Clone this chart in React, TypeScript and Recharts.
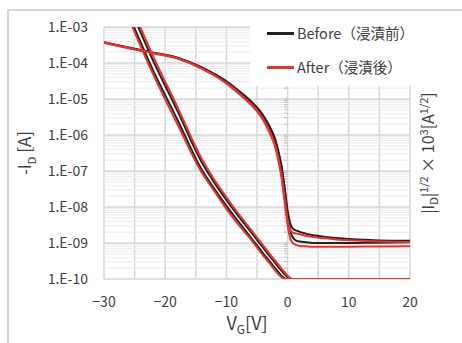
import { LineChart, Line, XAxis, YAxis, CartesianGrid, ReferenceLine } from 'recharts';

// gate voltage sweep points [V]
const vG = [-30, -26, -22, -18, -14, -12, -10, -8, -6, -5, -4, -3, -2, -1.5, -1, -0.5, 0, 0.5, 1, 1.5, 2, 3, 4, 6, 8, 10, 14, 20];

// -I_D [A] (left, log axis), two sweeps per sample
const beforeLogA = [3.8e-4, 2.7e-4, 1.95e-4, 1.41e-4, 7.6e-5, 5.0e-5, 3.1e-5, 1.7e-5, 8.7e-6, 5.8e-6, 3.5e-6, 1.82e-6, 7.4e-7, 3.55e-7, 1.41e-7, 3.55e-8, 7.9e-9, 3.2e-9, 2.4e-9, 2.2e-9, 2.04e-9, 1.82e-9, 1.66e-9, 1.48e-9, 1.38e-9, 1.29e-9, 1.2e-9, 1.15e-9];
const beforeLogB = [3.7e-4, 2.65e-4, 1.9e-4, 1.38e-4, 7.4e-5, 4.9e-5, 3.0e-5, 1.64e-5, 8.3e-6, 5.5e-6, 3.25e-6, 1.65e-6, 6.6e-7, 3.1e-7, 1.2e-7, 3.2e-8, 6.3e-9, 2.0e-9, 1.32e-9, 1.15e-9, 1.1e-9, 1.05e-9, 1.0e-9, 1.0e-9, 1.0e-9, 1.0e-9, 1.02e-9, 1.05e-9];
const afterLogA = [3.8e-4, 2.63e-4, 1.91e-4, 1.35e-4, 7.1e-5, 4.6e-5, 2.8e-5, 1.5e-5, 7.4e-6, 4.9e-6, 2.8e-6, 1.35e-6, 5.0e-7, 2.24e-7, 7.9e-8, 1.78e-8, 4.5e-9, 2.2e-9, 1.9e-9, 1.82e-9, 1.74e-9, 1.58e-9, 1.48e-9, 1.35e-9, 1.26e-9, 1.2e-9, 1.12e-9, 1.07e-9];
const afterLogB = [3.6e-4, 2.57e-4, 1.86e-4, 1.32e-4, 6.9e-5, 4.5e-5, 2.7e-5, 1.42e-5, 7.0e-6, 4.5e-6, 2.55e-6, 1.2e-6, 4.4e-7, 1.9e-7, 6.6e-8, 1.41e-8, 3.2e-9, 1.26e-9, 9.5e-10, 8.7e-10, 8.3e-10, 8.1e-10, 7.9e-10, 7.9e-10, 7.9e-10, 7.9e-10, 8.0e-10, 8.1e-10];

// |I_D|^1/2 x 10^3 (right axis, no labels)
const beforeSqrtA = [17.8, 14.7, 11.6, 8.85, 6.05, 5.02, 4.06, 3.17, 2.3, 1.87, 1.43, 1.01, 0.58, 0.38, 0.18, 0.04, 0, 0, 0, 0, 0, 0, 0, 0, 0, 0, 0, 0];
const beforeSqrtB = [18.35, 15.25, 12.15, 9.34, 6.47, 5.37, 4.39, 3.48, 2.61, 2.18, 1.74, 1.3, 0.88, 0.66, 0.46, 0.26, 0.1, 0.01, 0, 0, 0, 0, 0, 0, 0, 0, 0, 0];
const afterSqrtA = [17.6, 14.5, 11.4, 8.6, 5.9, 4.9, 3.9, 3.0, 2.2, 1.75, 1.3, 0.9, 0.46, 0.26, 0.1, 0.01, 0, 0, 0, 0, 0, 0, 0, 0, 0, 0, 0, 0];
const afterSqrtB = [18.6, 15.5, 12.4, 9.55, 6.65, 5.52, 4.54, 3.61, 2.74, 2.3, 1.87, 1.43, 1.01, 0.8, 0.58, 0.38, 0.18, 0.04, 0, 0, 0, 0, 0, 0, 0, 0, 0, 0];

const logTicks = [1e-10, 1e-9, 1e-8, 1e-7, 1e-6, 1e-5, 1e-4, 1e-3];
const vTicks = [-30, -25, -20, -15, -10, -5, 0, 5, 10, 15, 20];
const minorSteps = [2, 3, 4, 5, 6, 7, 8, 9];

const rows = vG.map((v, i) => ({
  v,
  bLogA: beforeLogA[i],
  bLogB: beforeLogB[i],
  aLogA: afterLogA[i],
  aLogB: afterLogB[i],
  bSqA: beforeSqrtA[i],
  bSqB: beforeSqrtB[i],
  aSqA: afterSqrtA[i],
  aSqB: afterSqrtB[i],
}));

const minorValues = logTicks.slice(0, -1).flatMap((d) => minorSteps.map((m) => d * m));
const axisTickValues = [...logTicks, ...minorValues];

const BLACK = '#222222';
const RED = '#e5332e';
const FONT = '"Noto Sans CJK JP", "Noto Sans", sans-serif';
const TEXT = '#404040';

const fmtLog = (v: number) => {
  const e = Math.round(-Math.log10(v));
  return `1.E-${String(e).padStart(2, '0')}`;
};
const fmtV = (v: number) => (v % 10 === 0 ? String(v).replace('-', '\u2212') : '');

export default function App() {
  return (
    <div style={{ position: 'absolute', left: 0, top: 0, width: 462, height: 343, overflow: 'hidden', background: '#fff', fontFamily: FONT }}>
      <div style={{ position: 'absolute', left: 7, top: 9, width: 500, height: 400, border: '2px solid #d6d6d6' }} />
      <div style={{ position: 'absolute', left: 0, top: 0 }}>
        <LineChart width={462} height={343} data={rows} margin={{ top: 27, right: 52, left: 44, bottom: 34 }}>
          {minorValues.map((m) => (
            <ReferenceLine key={'g' + m} yAxisId="log" y={m} stroke="#ececec" strokeWidth={1} />
          ))}
          <CartesianGrid yAxisId="log" stroke="#d6d6d6" strokeWidth={1.5} />
          <XAxis
            type="number"
            dataKey="v"
            domain={[-30, 20]}
            ticks={vTicks}
            interval={0}
            allowDataOverflow
            axisLine={false}
            tickLine={false}
            tickSize={0}
            tickMargin={18}
            height={30}
            tickFormatter={fmtV}
            tick={{ fill: TEXT, fontSize: 14, fontFamily: FONT }}
          />
          <YAxis
            yAxisId="log"
            scale="log"
            domain={[1e-10, 1e-3]}
            ticks={logTicks}
            interval={0}
            allowDataOverflow
            axisLine={false}
            tickLine={false}
            tickSize={0}
            tickMargin={16}
            width={60}
            tickFormatter={fmtLog}
            tick={{ fill: TEXT, fontSize: 14, fontFamily: FONT }}
          />
          <YAxis yAxisId="sqrt" orientation="right" domain={[0, 14]} allowDataOverflow hide />
          {axisTickValues.map((t) => (
            <ReferenceLine
              key={t}
              yAxisId="log"
              segment={[{ x: -0.6, y: t }, { x: 0, y: t }]}
              stroke="#bdbdbd"
              strokeWidth={1}
            />
          ))}
          <Line yAxisId="sqrt" dataKey="bSqA" stroke={BLACK} strokeWidth={2} dot={false} type="monotone" isAnimationActive={false} />
          <Line yAxisId="sqrt" dataKey="bSqB" stroke={BLACK} strokeWidth={2} dot={false} type="monotone" isAnimationActive={false} />
          <Line yAxisId="log" dataKey="bLogA" stroke={BLACK} strokeWidth={2} dot={false} type="monotone" isAnimationActive={false} />
          <Line yAxisId="log" dataKey="bLogB" stroke={BLACK} strokeWidth={2} dot={false} type="monotone" isAnimationActive={false} />
          <Line yAxisId="sqrt" dataKey="aSqA" stroke={RED} strokeWidth={2} dot={false} type="monotone" isAnimationActive={false} />
          <Line yAxisId="sqrt" dataKey="aSqB" stroke={RED} strokeWidth={2} dot={false} type="monotone" isAnimationActive={false} />
          <Line yAxisId="log" dataKey="aLogA" stroke={RED} strokeWidth={2} dot={false} type="monotone" isAnimationActive={false} />
          <Line yAxisId="log" dataKey="aLogB" stroke={RED} strokeWidth={2} dot={false} type="monotone" isAnimationActive={false} />
        </LineChart>
      </div>

      {/* legend */}
      <div style={{ position: 'absolute', left: 250, top: 26, width: 164, height: 60, background: '#fff' }} />
      <div style={{ position: 'absolute', left: 267, top: 32, width: 27, height: 2.5, background: BLACK }} />
      <div style={{ position: 'absolute', left: 297, top: 23, fontSize: 14.5, lineHeight: '20px', color: TEXT, whiteSpace: 'nowrap' }}>Before（浸漬前）</div>
      <div style={{ position: 'absolute', left: 267, top: 66, width: 27, height: 2.5, background: RED }} />
      <div style={{ position: 'absolute', left: 297, top: 57, fontSize: 14.5, lineHeight: '20px', color: TEXT, whiteSpace: 'nowrap' }}>After（浸漬後）</div>

      {/* axis titles */}
      <div style={{ position: 'absolute', left: 247, top: 323, transform: 'translate(-50%, -50%)', fontSize: 18, color: TEXT, whiteSpace: 'nowrap' }}>
        V<sub style={{ fontSize: 12 }}>G</sub>[V]
      </div>
      <div style={{ position: 'absolute', left: 25, top: 153, transform: 'translate(-50%, -50%) rotate(-90deg)', fontSize: 17, color: TEXT, whiteSpace: 'nowrap' }}>
        -I<sub style={{ fontSize: 11 }}>D</sub> [A]
      </div>
      <div style={{ position: 'absolute', left: 428, top: 153, transform: 'translate(-50%, -50%) rotate(-90deg)', fontSize: 16, color: TEXT, whiteSpace: 'nowrap' }}>
        |I<sub style={{ fontSize: 11 }}>D</sub>|<sup style={{ fontSize: 11 }}>1/2</sup> × 10<sup style={{ fontSize: 11 }}>3</sup>[A<sup style={{ fontSize: 11 }}>1/2</sup>]
      </div>
    </div>
  );
}
